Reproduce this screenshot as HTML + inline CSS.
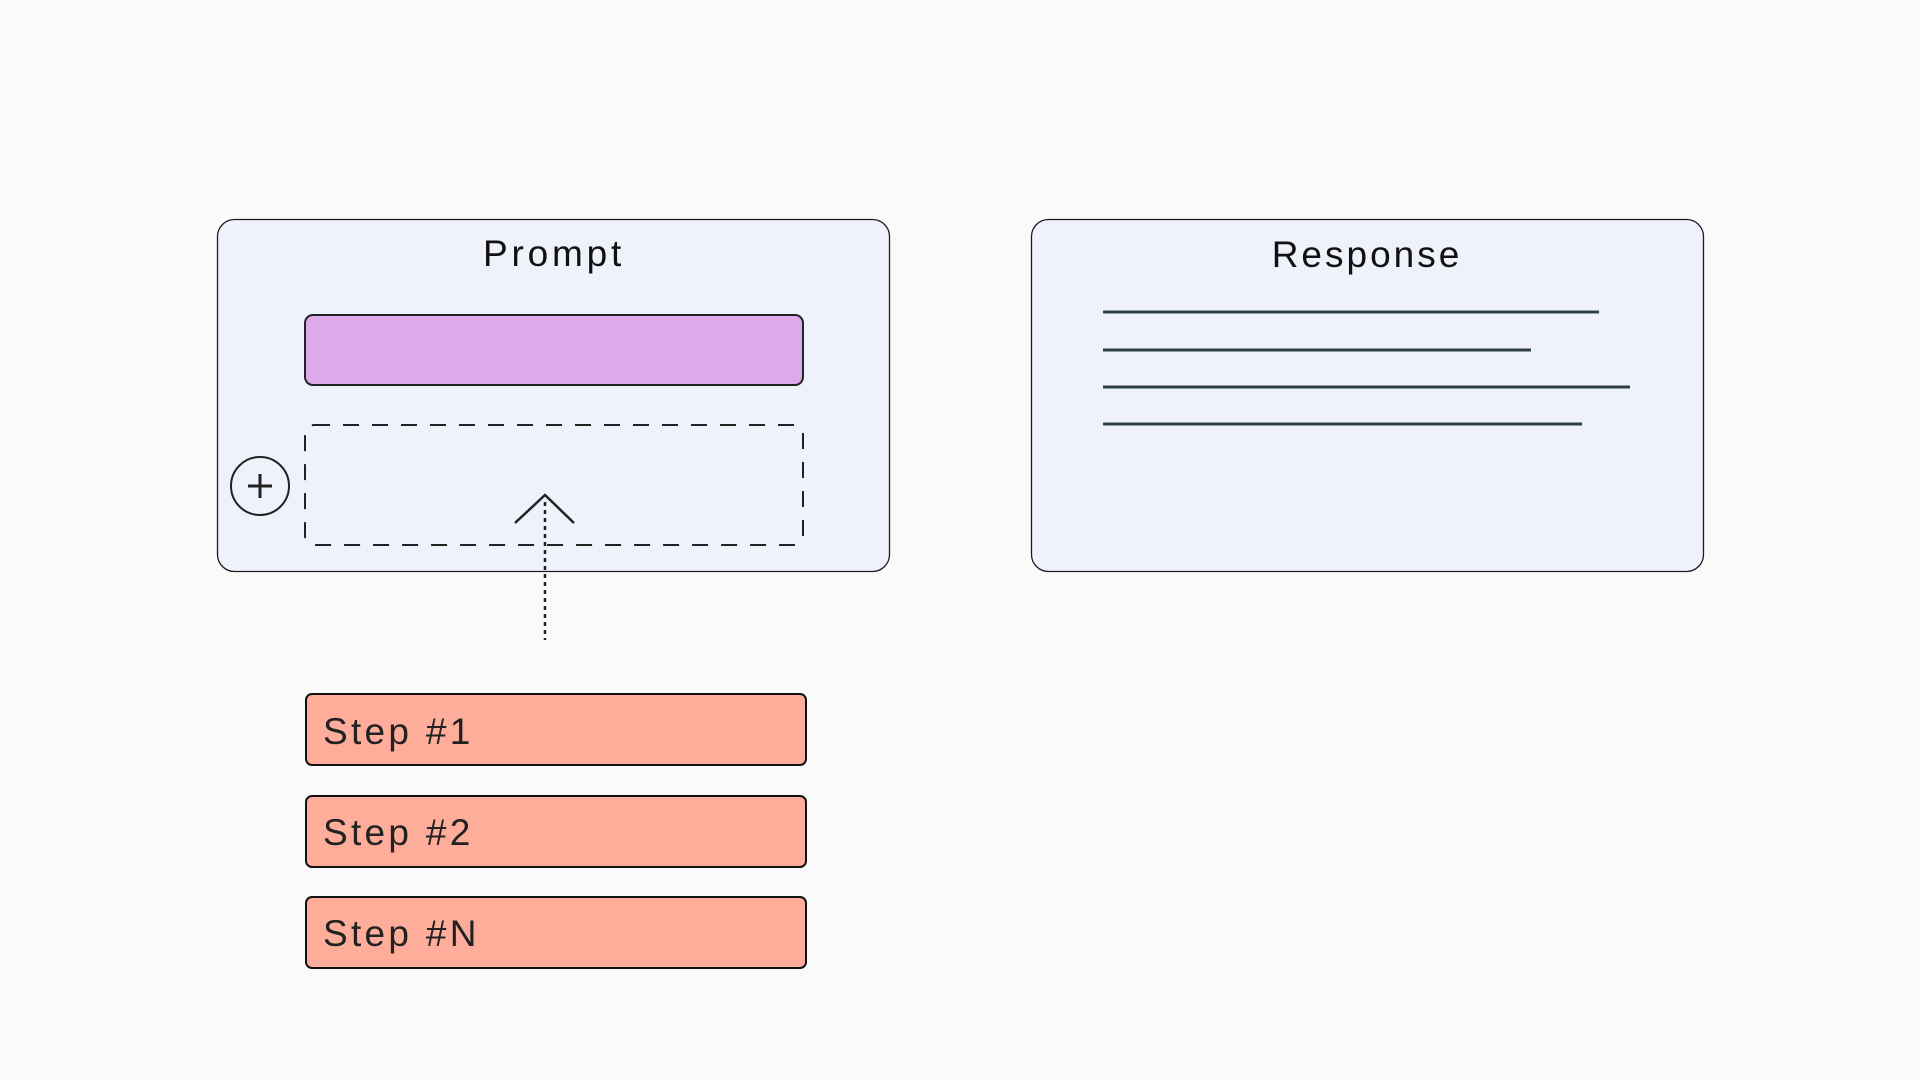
<!DOCTYPE html>
<html><head><style>
body{margin:0;width:1920px;height:1080px;background:#fafafa;overflow:hidden;font-family:"Liberation Sans",sans-serif}
</style></head><body>
<svg width="1920" height="1080" xmlns="http://www.w3.org/2000/svg" style="position:absolute;left:0;top:0">
<rect x="217.5" y="219.5" width="672" height="352" rx="17" fill="#eff2fb" stroke="#1d1d1d" stroke-width="1.3"/>
<rect x="1031.5" y="219.5" width="672" height="352" rx="17" fill="#eff2fb" stroke="#1d1d1d" stroke-width="1.3"/>
<text x="554" y="266" font-size="37" text-anchor="middle" fill="#111" letter-spacing="3.8">Prompt</text>
<text x="1367" y="267" font-size="37" text-anchor="middle" fill="#111" letter-spacing="3">Response</text>
<rect x="305" y="315" width="498" height="70" rx="8" fill="#dea9e8" stroke="#222" stroke-width="2"/>
<rect x="305" y="425" width="498" height="120" rx="9" fill="none" stroke="#222" stroke-width="2" stroke-dasharray="16,13"/>
<circle cx="260" cy="486" r="29" fill="none" stroke="#222" stroke-width="2"/>
<path d="M248 486H272M260 474V498" stroke="#222" stroke-width="3"/>
<path d="M515 523L545 495L574 523" fill="none" stroke="#222" stroke-width="2.5"/>
<path d="M545 502V640" stroke="#222" stroke-width="2.5" stroke-dasharray="4,4"/>
<g stroke="#2f4040" stroke-width="3">
<path d="M1103 312H1599M1103 350H1531M1103 387H1630M1103 424H1582"/>
</g>
<g fill="#ffad9b" stroke="#111" stroke-width="2">
<rect x="306" y="694" width="500" height="71" rx="6"/>
<rect x="306" y="796" width="500" height="71" rx="6"/>
<rect x="306" y="897" width="500" height="71" rx="6"/>
</g>
<g font-size="37" fill="#222" letter-spacing="3.3">
<text x="323" y="744">Step #1</text>
<text x="323" y="845">Step #2</text>
<text x="323" y="946">Step #N</text>
</g>
</svg>
</body></html>
